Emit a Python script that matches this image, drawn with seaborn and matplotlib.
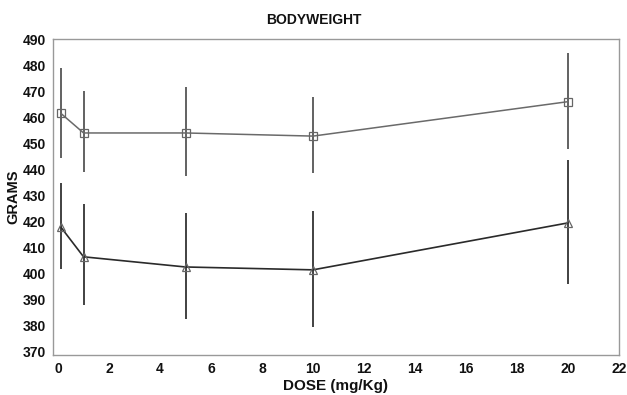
import matplotlib
matplotlib.use("Agg")
import matplotlib.pyplot as plt
import seaborn as sns
import numpy as np
import pandas as pd

dose = [0.1, 1, 5, 10, 20]
upper_mean = [461.6, 454.0, 454.0, 452.8, 466.0]
upper_low = [444.4, 439.0, 437.5, 438.5, 447.8]
upper_high = [479.0, 470.0, 471.5, 467.8, 484.6]
lower_mean = [418.0, 406.5, 402.6, 401.5, 419.5]
lower_low = [401.8, 388.0, 382.5, 379.5, 396.0]
lower_high = [434.8, 426.6, 423.3, 424.0, 443.6]

x_ticks = list(range(0, 23, 2))
y_ticks = list(range(370, 491, 10))

sns.set_theme(style="white")
plt.rcParams['font.family'] = ['Liberation Sans', 'DejaVu Sans']

fig = plt.figure(figsize=(6.27, 3.95), dpi=100)
ax = fig.add_axes([0.0845, 0.101, 0.9025, 0.800])

df = pd.DataFrame({
    "dose": dose * 2,
    "mean": upper_mean + lower_mean,
    "group": ["upper"] * len(dose) + ["lower"] * len(dose),
})

# error bars
for m, lo, hi, col in [(upper_mean, upper_low, upper_high, "#555555"),
                        (lower_mean, lower_low, lower_high, "#333333")]:
    m = np.array(m); lo = np.array(lo); hi = np.array(hi)
    ax.errorbar(dose, m, yerr=[m - lo, hi - m], fmt="none", ecolor=col,
                elinewidth=1.3, capsize=0, zorder=1)

sns.lineplot(data=df[df.group == "upper"], x="dose", y="mean", ax=ax,
             color="#6a6a6a", lw=1.1, marker="s", markersize=6,
             markerfacecolor="none", markeredgecolor="#666666",
             markeredgewidth=0.9, zorder=3)
sns.lineplot(data=df[df.group == "lower"], x="dose", y="mean", ax=ax,
             color="#2a2a2a", lw=1.2, marker="^", markersize=6,
             markerfacecolor="none", markeredgecolor="#666666",
             markeredgewidth=0.9, zorder=3)

ax.set_xlim(-0.2, 22)
ax.set_ylim(368.8, 490)
ax.set_xticks(x_ticks)
ax.set_yticks(y_ticks)
ax.tick_params(axis="both", which="both", direction="out", length=3,
               width=0.8, color="#888888", labelsize=10, pad=2,
               labelcolor="#111111")
for lab in ax.get_xticklabels() + ax.get_yticklabels():
    lab.set_fontweight("bold")
for sp in ax.spines.values():
    sp.set_color("#999999")
    sp.set_linewidth(1.0)

fig.text(0.5, 0.949, "BODYWEIGHT", ha="center", va="center",
         fontsize=10, fontweight="bold", color="#111111")
ax.set_xlabel("DOSE (mg/Kg)", fontsize=11, fontweight="bold", labelpad=2,
              color="#111111")
ax.set_ylabel("GRAMS", fontsize=10.5, fontweight="bold", color="#111111")
ax.yaxis.set_label_coords(-0.058, 0.5)

fig.savefig("out.png", dpi=100, facecolor="white")
